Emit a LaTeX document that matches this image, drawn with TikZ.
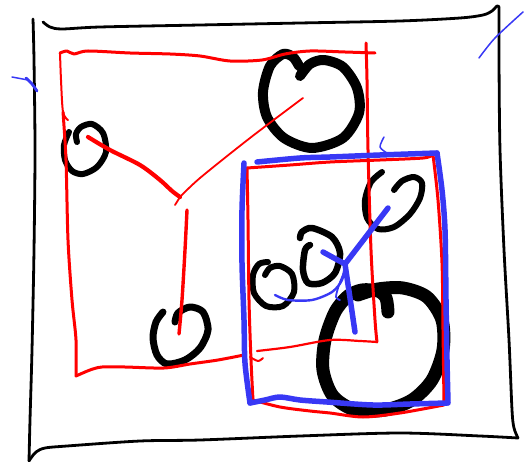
\documentclass[tikz,border=0pt]{standalone}
\usepackage{tikz}
\usepackage{xcolor}
\definecolor{penred}{RGB}{255,0,0}
\definecolor{penblue}{RGB}{56,56,245}

\begin{document}
\begin{tikzpicture}[x=1pt,y=-1pt,
            line cap=round, line join=round,
            frame/.style={draw=black, line width=2.8pt},
            ring/.style={draw=black, line width=#1},
            ring/.default=6pt,
            redpen/.style={draw=penred, line width=#1},
            redpen/.default=3pt,
            bluepen/.style={draw=penblue, line width=#1},
            bluepen/.default=5.5pt]
            \useasboundingbox (0,0) rectangle (529,462);

            % outer frame
            \draw[frame] plot[smooth] coordinates {(43,22) (50,27) (62,29) (100,27) (200,25) (300,23) (400,21) (460,18) (483,15) (492,11) (497,6) (499,7)};
            \draw[frame] plot[smooth] coordinates {(499,7) (499,60) (500,150) (504,250) (509,340) (512,410) (514,428) (518,438)};
            \draw[frame] plot[smooth] coordinates {(518,438) (480,436) (400,433) (300,436) (200,440) (140,441) (67,446) (45,448) (36,452) (31,458) (29,461)};
            \draw[frame] plot[smooth] coordinates {(33,19) (34,60) (35,150) (34,250) (32,350) (30,420) (29,461)};

            % rings
            \draw[ring=6pt] plot[smooth] coordinates {(69,132) (64,145) (65,160) (72,171) (83,174) (97,167) (106,152) (103,133) (92,124) (81,127) (76,134) (77,142)};
            \draw[ring=10pt] plot[smooth] coordinates {(300,76) (310,64) (324,60) (343,67) (357,88) (359,113) (343,138) (312,148) (284,138) (267,117) (263,92) (270,66) (283,54) (293,57) (299,66)};
            \draw[ring=7pt] plot[smooth] coordinates {(163,312) (156,322) (153,338) (157,355) (167,364) (185,360) (200,348) (208,330) (203,312) (190,307) (178,313) (175,322)};
            \draw[ring=6pt] plot[smooth] coordinates {(394,190) (402,181) (414,177) (422,183) (420,198) (410,214) (394,227) (378,229) (367,218) (365,200) (371,182) (382,172)};
            \draw[ring=6.5pt] plot[smooth] coordinates {(300,238) (302,232) (312,228) (332,237) (340,253) (335,273) (322,283) (308,283) (303,270) (305,250) (310,245)};
            \draw[ring=6pt] plot[smooth] coordinates {(268,262) (259,264) (253,275) (254,293) (266,306) (283,306) (294,292) (292,274) (280,266) (270,268) (265,275)};
            \draw[ring=13pt] plot[smooth] coordinates {(358,295) (378,289) (403,288) (427,297) (442,320) (443,350) (432,380) (412,400) (385,410) (355,410) (333,396) (323,370) (325,340) (335,312) (348,296) (362,290) (378,291) (386,298) (388,312)};

            % red group
            \draw[redpen] plot[smooth] coordinates {(60,53) (67,51) (74,54) (88,51) (130,53) (170,54) (200,56) (230,61) (262,60) (285,54) (310,51) (345,52) (375,53)};
            \draw[redpen] plot[smooth] coordinates {(366,43) (367,80) (368,150) (371,250) (375,320) (377,342)};
            \draw[redpen=2pt] plot[smooth] coordinates {(60,53) (61,80) (63,112) (68,120)};
            \draw[redpen] plot[smooth] coordinates {(63,112) (66,160) (68,240) (72,300) (76,340) (76,376)};
            \draw[redpen] plot[smooth] coordinates {(76,376) (90,370) (102,367) (125,367) (164,368) (190,364) (218,360) (244,355)};
            \draw[redpen=2pt] plot[smooth] coordinates {(250,357) (258,361) (263,358)};
            \draw[redpen=2.2pt] plot[smooth] coordinates {(257,351) (290,347) (330,340) (360,341) (377,342)};
            \draw[redpen] plot[smooth] coordinates {(247,168) (290,165) (330,162) (380,160) (423,158) (433,155)};
            \draw[redpen] plot[smooth] coordinates {(247,168) (248,220) (249,300) (251,360) (253,400)};
            \draw[redpen] plot[smooth] coordinates {(433,155) (438,200) (442,263) (443,330) (444,403)};
            \draw[redpen] plot[smooth] coordinates {(253,400) (280,407) (310,411) (330,413) (363,417) (400,413) (444,405)};

            \coordinate (ringA) at (88,137);
            \coordinate (ringB) at (303,98);
            \coordinate (ringC) at (179,334);
            \coordinate (junR) at (180,197);
            \coordinate (stemR) at (187,210);
            \draw[redpen=4.2pt] plot[smooth] coordinates {(ringA) (110,150) (140,165) (160,180) (172,191) (junR)};
            \draw[redpen=1.8pt] plot[smooth] coordinates {(junR) (200,178) (250,138) (ringB)};
            \draw[redpen=1.8pt] (junR) -- (175,205);
            \draw[redpen=3.4pt] plot[smooth] coordinates {(stemR) (185,250) (182,300) (ringC)};

            % blue group
            \draw[bluepen] plot[smooth] coordinates {(257,162) (300,158) (330,157) (380,155) (437,153)};
            \draw[bluepen] plot[smooth] coordinates {(244,163) (242,210) (242,263) (244,320) (245,363) (250,403)};
            \draw[bluepen] plot[smooth] coordinates {(250,403) (265,400) (280,397) (300,400) (327,402) (373,405) (410,404) (447,403)};
            \draw[bluepen] plot[smooth] coordinates {(437,153) (442,190) (445,230) (446,300) (447,360) (448,403)};

            \coordinate (ringD) at (388,208);
            \coordinate (ringE) at (323,252);
            \coordinate (ringF) at (275,295);
            \coordinate (ringG) at (355,332);
            \coordinate (junB) at (345,264);
            \draw[bluepen] (ringD) -- (junB);
            \draw[bluepen] (ringE) -- (junB) -- (ringG);
            \draw[bluepen=2.4pt] plot[smooth] coordinates {(ringF) (288,300) (312,300) (332,292) (342,280) (junB)};
            \draw[bluepen=1.8pt] plot[smooth] coordinates {(345,270) (339,285) (336,297) (340,300)};

            % pen ticks
            \draw[bluepen=1.5pt] (12,77) -- (28,80);
            \draw[bluepen=2.8pt] plot[smooth] coordinates {(26,78) (32,84) (37,91)};
            \draw[bluepen=1.5pt] plot[smooth] coordinates {(479,58) (495,38) (523,12)};
            \draw[bluepen=1.5pt] plot[smooth] coordinates {(384,137) (380,147) (387,153)};
        \end{tikzpicture}
\end{document}
